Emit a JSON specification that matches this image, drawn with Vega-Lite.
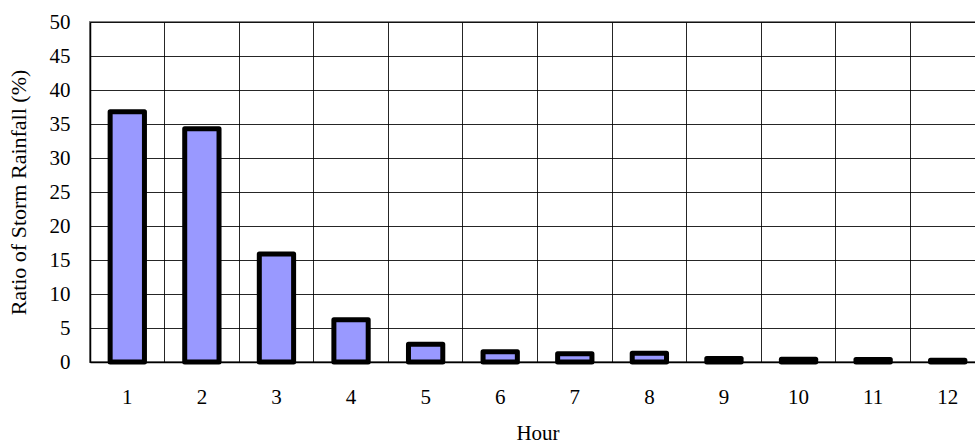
{
  "$schema": "https://vega.github.io/schema/vega-lite/v6.json",
  "width": 895,
  "height": 340,
  "autosize": {"type": "none"},
  "padding": {"left": 90, "top": 22, "right": 0, "bottom": 82},
  "background": "white",
  "config": {
    "font": "Liberation Serif, Times New Roman, serif",
    "view": {"stroke": "#808080", "strokeWidth": 2}
  },
  "data": {
    "values": [
      {"hour": "1", "ratio": 36.8},
      {"hour": "2", "ratio": 34.3},
      {"hour": "3", "ratio": 15.9},
      {"hour": "4", "ratio": 6.2},
      {"hour": "5", "ratio": 2.6},
      {"hour": "6", "ratio": 1.5},
      {"hour": "7", "ratio": 1.2},
      {"hour": "8", "ratio": 1.3},
      {"hour": "9", "ratio": 0.5},
      {"hour": "10", "ratio": 0.4},
      {"hour": "11", "ratio": 0.35},
      {"hour": "12", "ratio": 0.25}
    ]
  },
  "mark": {
    "type": "bar",
    "fill": "#9999FF",
    "stroke": "#000000",
    "strokeWidth": 5,
    "strokeJoin": "round",
    "width": {"band": 0.46}
  },
  "encoding": {
    "x": {
      "field": "hour",
      "type": "ordinal",
      "sort": null,
      "scale": {"paddingInner": 0, "paddingOuter": 0},
      "axis": {
        "title": "Hour",
        "labelAngle": 0,
        "bandPosition": 0,
        "labelBound": false,
        "ticks": false,
        "domain": true,
        "domainColor": "#000000",
        "domainWidth": 1.5,
        "grid": true,
        "gridColor": "#000000",
        "gridOpacity": 0.85,
        "gridWidth": 1,
        "labelFont": "Liberation Serif, Times New Roman, serif",
        "labelFontSize": 21,
        "labelColor": "#000000",
        "labelPadding": 24,
        "titleFont": "Liberation Serif, Times New Roman, serif",
        "titleFontSize": 21,
        "titleFontWeight": "normal",
        "titleColor": "#000000",
        "titlePadding": 15
      }
    },
    "y": {
      "field": "ratio",
      "type": "quantitative",
      "scale": {"domain": [0, 50], "nice": false},
      "axis": {
        "title": "Ratio of Storm Rainfall (%)",
        "values": [0, 5, 10, 15, 20, 25, 30, 35, 40, 45, 50],
        "ticks": false,
        "domain": true,
        "domainColor": "#000000",
        "domainWidth": 1.5,
        "grid": true,
        "gridColor": "#000000",
        "gridOpacity": 0.85,
        "gridWidth": 1,
        "labelFont": "Liberation Serif, Times New Roman, serif",
        "labelFontSize": 21,
        "labelColor": "#000000",
        "labelPadding": 20,
        "titleFont": "Liberation Serif, Times New Roman, serif",
        "titleFontSize": 22,
        "titleFontWeight": "normal",
        "titleColor": "#000000",
        "titlePadding": 19
      }
    }
  }
}
